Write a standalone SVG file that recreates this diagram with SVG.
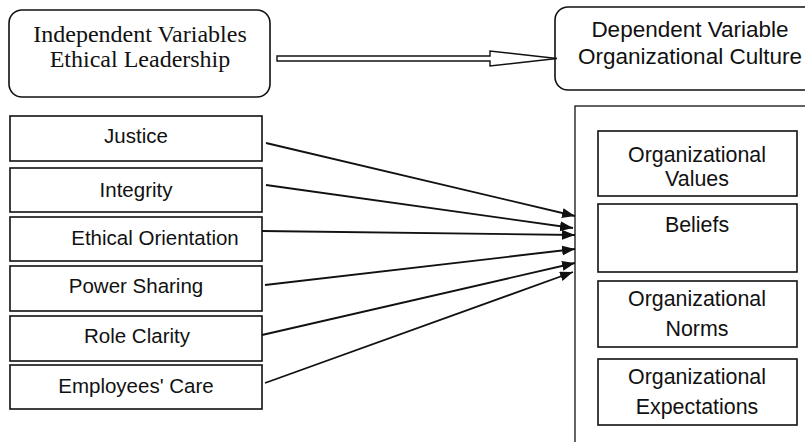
<svg xmlns="http://www.w3.org/2000/svg" width="805" height="442" viewBox="0 0 805 442">
<style>
.box{fill:#fff;stroke:#111;stroke-width:1.6}
.sans{font-family:"Liberation Sans",Arial,sans-serif;fill:#111;text-anchor:middle}
.serif{font-family:"Liberation Serif","Times New Roman",serif;fill:#111;text-anchor:middle;font-size:24px}
.l{font-size:20.5px}
.r{font-size:21.4px}
.t{font-size:22.5px}
.conn{stroke:#111;stroke-width:1.8;fill:none;marker-end:url(#ah)}
</style>
<defs>
<marker id="ah" markerUnits="userSpaceOnUse" markerWidth="14" markerHeight="12" refX="13" refY="5" orient="auto">
<path d="M0,0 L13,5 L0,10 Z" fill="#111"/>
</marker>
</defs>
<rect width="805" height="442" fill="#fff"/>
<g id="independent">
<rect class="box" x="9" y="10" width="261" height="87" rx="13"/>
<text class="serif" x="140" y="42">Independent Variables</text>
<text class="serif" x="140" y="67">Ethical Leadership</text>
</g>
<g id="dependent">
<rect class="box" x="555" y="7" width="270" height="83" rx="13"/>
<text class="sans t" x="690" y="37">Dependent Variable</text>
<text class="sans t" x="690" y="64">Organizational Culture</text>
</g>
<g id="culture-frame">
<rect x="575" y="106" width="260" height="360" fill="none" stroke="#111" stroke-width="1.3"/>
</g>
<g id="justice"><rect class="box" x="10" y="116" width="252" height="45"/><text class="sans l" x="136" y="143">Justice</text></g>
<g id="integrity"><rect class="box" x="10" y="168" width="252" height="44"/><text class="sans l" x="136" y="197">Integrity</text></g>
<g id="ethical-orientation"><rect class="box" x="10" y="217" width="252" height="44"/><text class="sans l" x="155" y="245">Ethical Orientation</text></g>
<g id="power-sharing"><rect class="box" x="10" y="266" width="252" height="45"/><text class="sans l" x="136" y="293">Power Sharing</text></g>
<g id="role-clarity"><rect class="box" x="10" y="316" width="252" height="45"/><text class="sans l" x="137" y="343">Role Clarity</text></g>
<g id="employees-care"><rect class="box" x="10" y="365" width="252" height="44"/><text class="sans l" x="136" y="393">Employees' Care</text></g>
<g id="org-values"><rect class="box" x="598" y="131" width="199" height="65"/><text class="sans r" x="697" y="162">Organizational</text><text class="sans r" x="697" y="186">Values</text></g>
<g id="beliefs"><rect class="box" x="598" y="204" width="199" height="68"/><text class="sans r" x="697" y="232">Beliefs</text></g>
<g id="org-norms"><rect class="box" x="598" y="281" width="199" height="66"/><text class="sans r" x="697" y="306">Organizational</text><text class="sans r" x="697" y="336">Norms</text></g>
<g id="org-expectations"><rect class="box" x="598" y="359" width="199" height="66"/><text class="sans r" x="697" y="384">Organizational</text><text class="sans r" x="697" y="414">Expectations</text></g>
<g id="connectors">
<polygon points="277,56 490,56 490,51 557,58.5 490,66 490,61 277,61" fill="#fff" stroke="#111" stroke-width="1.4"/>
<line class="conn" x1="266" y1="143" x2="575" y2="216"/>
<line class="conn" x1="266" y1="185" x2="573" y2="228"/>
<line class="conn" x1="262" y1="231" x2="575" y2="235"/>
<line class="conn" x1="265" y1="285" x2="575" y2="249"/>
<line class="conn" x1="262" y1="335" x2="575" y2="263"/>
<line class="conn" x1="265" y1="383" x2="573" y2="272"/>
</g>
</svg>
